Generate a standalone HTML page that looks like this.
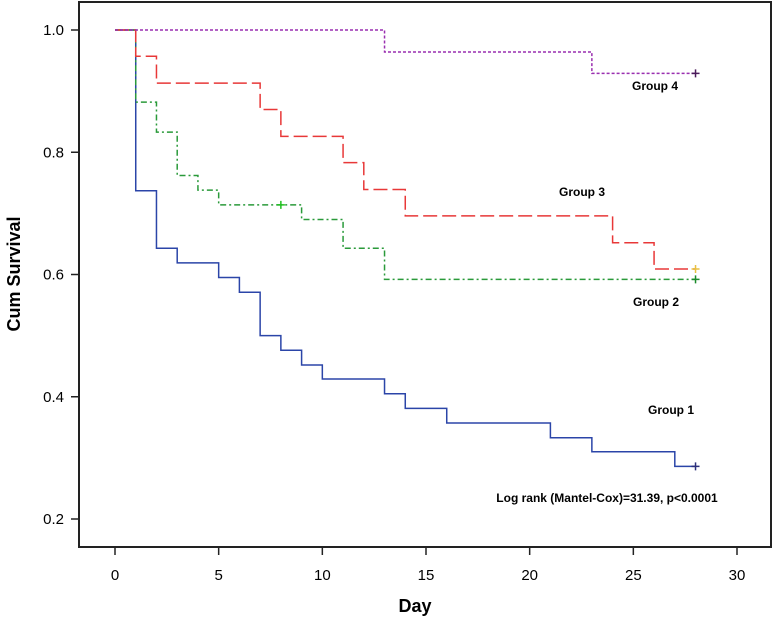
<!DOCTYPE html>
<html><head><meta charset="utf-8"><style>
body{margin:0;background:#fff;}
svg{display:block;font-family:"Liberation Sans",sans-serif;}
</style></head><body>
<svg id="chart" width="774" height="618">
<rect x="79" y="2" width="692" height="545" fill="none" stroke="#222" stroke-width="2"/>
<g id="axes"></g>
<g id="series"></g>
<text x="0" y="0" transform="translate(20,274) rotate(-90)" text-anchor="middle" font-size="18" font-weight="bold">Cum Survival</text>
<text x="415" y="612" text-anchor="middle" font-size="18" font-weight="bold">Day</text>
<text x="655" y="90" font-size="12" font-weight="bold" text-anchor="middle">Group 4</text>
<text x="582" y="196" font-size="12" font-weight="bold" text-anchor="middle">Group 3</text>
<text x="656" y="306" font-size="12" font-weight="bold" text-anchor="middle">Group 2</text>
<text x="671" y="414" font-size="12" font-weight="bold" text-anchor="middle">Group 1</text>
<text x="607" y="502" font-size="12" font-weight="bold" text-anchor="middle">Log rank (Mantel-Cox)=31.39, p&lt;0.0001</text>
</svg>
<script>
const xTicks=[0,5,10,15,20,25,30];
const yTicks=[0.2,0.4,0.6,0.8,1.0];
const g1Times=[0,1,2,3,5,6,7,8,9,10,13,14,16,21,23,27,28];
const g1Surv=[1,0.737,0.643,0.619,0.595,0.571,0.5,0.476,0.452,0.429,0.405,0.381,0.357,0.333,0.31,0.286,0.286];
const g2Times=[0,1,2,3,4,5,9,11,13,28];
const g2Surv=[1,0.882,0.833,0.762,0.738,0.714,0.69,0.643,0.592,0.592];
const g3Times=[0,1,2,7,8,11,12,14,24,26,28];
const g3Surv=[1,0.957,0.913,0.87,0.826,0.783,0.739,0.696,0.652,0.609,0.609];
const g4Times=[0,13,23,28];
const g4Surv=[1,0.964,0.929,0.929];
const censorG2=[8,0.714];
const NS="http://www.w3.org/2000/svg";
function sx(d){return 115+d*(737-115)/30;}
function sy(v){return 30+(1-v)*(519-30)/0.8;}
const axes=document.getElementById('axes');
function el(tag,attrs,parent){const e=document.createElementNS(NS,tag);for(const k in attrs)e.setAttribute(k,attrs[k]);parent.appendChild(e);return e;}
xTicks.forEach(t=>{
  const l=el('line',{x1:sx(t),x2:sx(t),y1:547,y2:555,stroke:'#222','stroke-width':1.5},axes);
  
  
  const tx=el('text',{x:sx(t),y:580,'text-anchor':'middle','font-size':15},axes);
  tx.textContent=t;
  
  
});
yTicks.forEach(t=>{
  const l=el('line',{x1:71,x2:79,y1:sy(t),y2:sy(t),stroke:'#222','stroke-width':1.5},axes);
  
  
  const tx=el('text',{x:64,y:sy(t)+5,'text-anchor':'end','font-size':15},axes);
  tx.textContent=t.toFixed(1);
  
  
});
const ser=document.getElementById('series');
function step(times,surv,color,dash,name){
  let d='M'+sx(times[0])+','+sy(surv[0]);
  for(let i=1;i<times.length;i++){d+=' H'+sx(times[i])+' V'+sy(surv[i]);}
  const p=el('path',{d:d,fill:'none',stroke:color,'stroke-width':1.5,'stroke-dasharray':dash},ser);
  
  
}
function censor(t,v,color,name){
  const p=el('path',{d:'M'+(sx(t)-4)+','+sy(v)+' h8 M'+sx(t)+','+(sy(v)-4)+' v8',stroke:color,'stroke-width':1.5},ser);
  
  
}
step(g1Times,g1Surv,'#2b45a8','','series-group-1');
step(g2Times,g2Surv,'#2a9a3a','6 3 2 3','series-group-2');
step(g3Times,g3Surv,'#e83838','14 5','series-group-3');
step(g4Times,g4Surv,'#9a2fb0','3 2','series-group-4');
censor(g1Times[g1Times.length-1],g1Surv[g1Surv.length-1],'#2b2e7a','censor-group-1');
censor(censorG2[0],censorG2[1],'#22c022','censor-group-2-mid');
censor(g2Times[g2Times.length-1],g2Surv[g2Surv.length-1],'#1a8a2a','censor-group-2');
censor(g3Times[g3Times.length-1],g3Surv[g3Surv.length-1],'#e8c040','censor-group-3');
censor(g4Times[g4Times.length-1],g4Surv[g4Surv.length-1],'#4a1a5a','censor-group-4');
</script>
</body></html>
